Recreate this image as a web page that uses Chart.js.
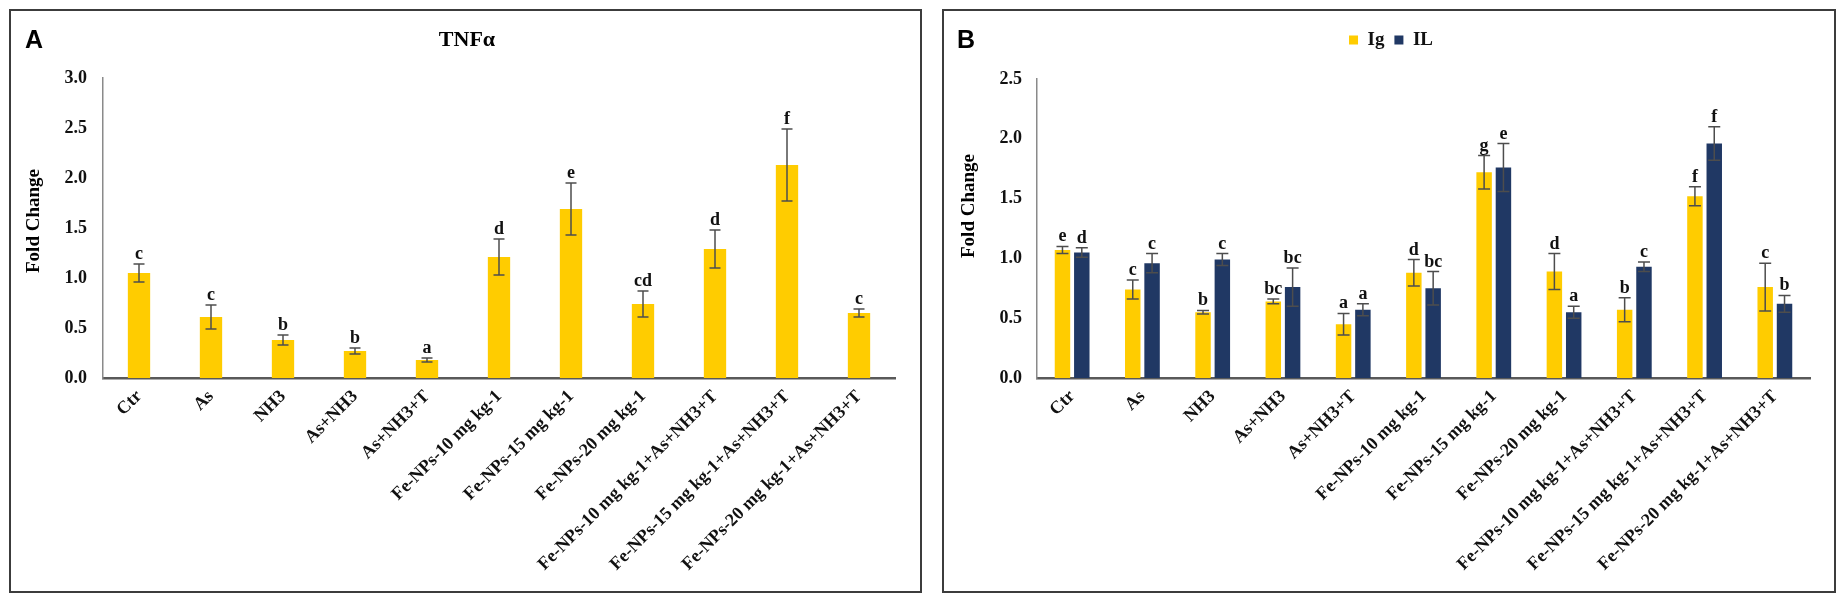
<!DOCTYPE html>
<html>
<head>
<meta charset="utf-8">
<script src="https://cdn.jsdelivr.net/npm/chart.js@4.4.1/dist/chart.umd.min.js"></script>
<style>
  body { margin: 0; background: #fff; width: 1842px; height: 602px; overflow: hidden; position: relative; }
  .panel { position: absolute; border: 2px solid #3c3c3c; box-sizing: border-box; }
  canvas { position: absolute; }
</style>
</head>
<body>
<div class="panel" style="left:9px;top:9px;width:913px;height:584px"></div>
<div class="panel" style="left:942px;top:9px;width:894px;height:584px"></div>
<canvas id="chartA" width="911" height="582" style="left:10px;top:10px"></canvas>
<canvas id="chartB" width="891" height="582" style="left:943px;top:10px"></canvas>
<script>
// groups on the x axis (same for both panels)
const categories = [
  'Ctr', 'As', 'NH3', 'As+NH3', 'As+NH3+T',
  'Fe-NPs-10 mg kg-1', 'Fe-NPs-15 mg kg-1', 'Fe-NPs-20 mg kg-1',
  'Fe-NPs-10 mg kg-1+As+NH3+T', 'Fe-NPs-15 mg kg-1+As+NH3+T', 'Fe-NPs-20 mg kg-1+As+NH3+T'
];

// panel A - TNFa
const tnfValues = [1.05, 0.61, 0.38, 0.27, 0.18, 1.21, 1.69, 0.74, 1.29, 2.13, 0.65];
const tnfErrors = [0.09, 0.12, 0.05, 0.03, 0.02, 0.18, 0.26, 0.13, 0.19, 0.36, 0.04];
const tnfLetters = ['c', 'c', 'b', 'b', 'a', 'd', 'e', 'cd', 'd', 'f', 'c'];
const tnfTicks = [0, 0.5, 1.0, 1.5, 2.0, 2.5, 3.0];

// panel B - Ig and IL
const igValues = [1.07, 0.74, 0.55, 0.64, 0.45, 0.88, 1.72, 0.89, 0.57, 1.52, 0.76];
const igErrors = [0.03, 0.08, 0.015, 0.02, 0.09, 0.11, 0.14, 0.15, 0.10, 0.08, 0.20];
const igLetters = ['e', 'c', 'b', 'bc', 'a', 'd', 'g', 'd', 'b', 'f', 'c'];
const ilValues = [1.05, 0.96, 0.99, 0.76, 0.57, 0.75, 1.76, 0.55, 0.93, 1.96, 0.62];
const ilErrors = [0.04, 0.08, 0.05, 0.16, 0.05, 0.14, 0.20, 0.05, 0.04, 0.14, 0.07];
const ilLetters = ['d', 'c', 'c', 'bc', 'a', 'bc', 'e', 'a', 'c', 'f', 'b'];
const igilTicks = [0, 0.5, 1.0, 1.5, 2.0, 2.5];

const SERIF = "'Liberation Serif', 'Times New Roman', serif";
const YELLOW = '#ffcc00';
const NAVY = '#203864';

Chart.defaults.font.family = SERIF;
Chart.defaults.font.weight = 'bold';
Chart.defaults.color = '#111';

// error bars + significance letters on top of every bar
const errorBars = {
  id: 'errorBars',
  afterDatasetsDraw(chart, args, opts) {
    const ctx = chart.ctx;
    const yScale = chart.scales.y;
    chart.data.datasets.forEach((ds, i) => {
      const meta = chart.getDatasetMeta(i);
      meta.data.forEach((bar, j) => {
        const v = ds.data[j];
        const e = ds.errors[j];
        const yTop = yScale.getPixelForValue(v + e);
        const yBot = yScale.getPixelForValue(v - e);
        ctx.save();
        ctx.strokeStyle = '#4d4d4d';
        ctx.lineWidth = 1.5;
        ctx.beginPath();
        ctx.moveTo(bar.x, yTop);
        ctx.lineTo(bar.x, yBot);
        ctx.moveTo(bar.x - opts.cap, yTop);
        ctx.lineTo(bar.x + opts.cap, yTop);
        ctx.moveTo(bar.x - opts.cap, yBot);
        ctx.lineTo(bar.x + opts.cap, yBot);
        ctx.stroke();
        ctx.fillStyle = '#111';
        ctx.font = 'bold 18px ' + SERIF;
        ctx.textAlign = 'center';
        ctx.textBaseline = 'alphabetic';
        ctx.fillText(ds.letters[j], bar.x, yTop - 5);
        ctx.restore();
      });
    });
  }
};

// panel letter, title and y axis title
const panelText = {
  id: 'panelText',
  afterDraw(chart, args, opts) {
    const ctx = chart.ctx;
    ctx.save();
    ctx.fillStyle = '#000';
    ctx.textBaseline = 'middle';
    ctx.textAlign = 'left';
    ctx.font = "bold 25px 'Liberation Sans', Arial, sans-serif";
    ctx.fillText(opts.letter, opts.letterX, opts.letterY);
    if (opts.title) {
      ctx.font = 'bold 22px ' + SERIF;
      ctx.textAlign = 'center';
      ctx.fillText(opts.title, opts.titleX, opts.titleY);
    }
    ctx.translate(opts.axisTitleX, opts.axisTitleY);
    ctx.rotate(-Math.PI / 2);
    ctx.font = 'bold 19px ' + SERIF;
    ctx.textAlign = 'center';
    ctx.fillText('Fold Change', 0, 0);
    ctx.restore();
  }
};

const xAxis = {
  grid: { display: false, drawTicks: false },
  border: { color: '#595959', width: 2.5 },
  ticks: { autoSkip: false, minRotation: 45, maxRotation: 45, padding: 8, color: '#111', font: { size: 18, weight: 'bold' } },
  afterFit(scale) { scale.height = 214; }
};

const yAxis = (ticks, width, pad) => ({
  min: ticks[0],
  max: ticks[ticks.length - 1],
  grid: { display: false, drawTicks: false },
  border: { color: '#8a8a8a', width: 1.5 },
  ticks: { stepSize: ticks[1] - ticks[0], padding: pad, color: '#111', font: { size: 18, weight: 'bold' }, callback: (v) => v.toFixed(1) },
  afterFit(scale) { scale.width = width; }
});

new Chart(document.getElementById('chartA'), {
  type: 'bar',
  data: {
    labels: categories,
    datasets: [{
      label: 'TNFα',
      data: tnfValues,
      errors: tnfErrors,
      letters: tnfLetters,
      backgroundColor: YELLOW,
      barPercentage: 0.31,
      categoryPercentage: 1
    }]
  },
  options: {
    responsive: false,
    animation: false,
    layout: { padding: { top: 68, right: 26, left: 0, bottom: 0 } },
    plugins: {
      legend: { display: false },
      tooltip: { enabled: false },
      errorBars: { cap: 5.5 },
      panelText: { letter: 'A', letterX: 15, letterY: 31, title: 'TNFα', titleX: 457, titleY: 30, axisTitleX: 24, axisTitleY: 211 }
    },
    scales: { x: xAxis, y: yAxis(tnfTicks, 93, 16) }
  },
  plugins: [errorBars, panelText]
});

new Chart(document.getElementById('chartB'), {
  type: 'bar',
  data: {
    labels: categories,
    datasets: [
      { label: 'Ig', data: igValues, errors: igErrors, letters: igLetters, backgroundColor: YELLOW, barPercentage: 0.8, categoryPercentage: 0.55 },
      { label: 'IL', data: ilValues, errors: ilErrors, letters: ilLetters, backgroundColor: NAVY, barPercentage: 0.8, categoryPercentage: 0.55 }
    ]
  },
  options: {
    responsive: false,
    animation: false,
    layout: { padding: { top: 10.5, right: 24, left: 29, bottom: 0 } },
    plugins: {
      legend: {
        position: 'top',
        labels: { boxWidth: 9, boxHeight: 9, padding: 10, color: '#111', font: { size: 19, weight: 'bold' } }
      },
      // empty spacer between the legend and the plot
      subtitle: { display: true, text: '', weight: 500, font: { size: 10 }, padding: { top: 0, bottom: 7.5 } },
      tooltip: { enabled: false },
      errorBars: { cap: 6 },
      panelText: { letter: 'B', letterX: 14, letterY: 31, axisTitleX: 26, axisTitleY: 196 }
    },
    scales: { x: xAxis, y: yAxis(igilTicks, 65, 15) }
  },
  plugins: [errorBars, panelText]
});
</script>
</body>
</html>
